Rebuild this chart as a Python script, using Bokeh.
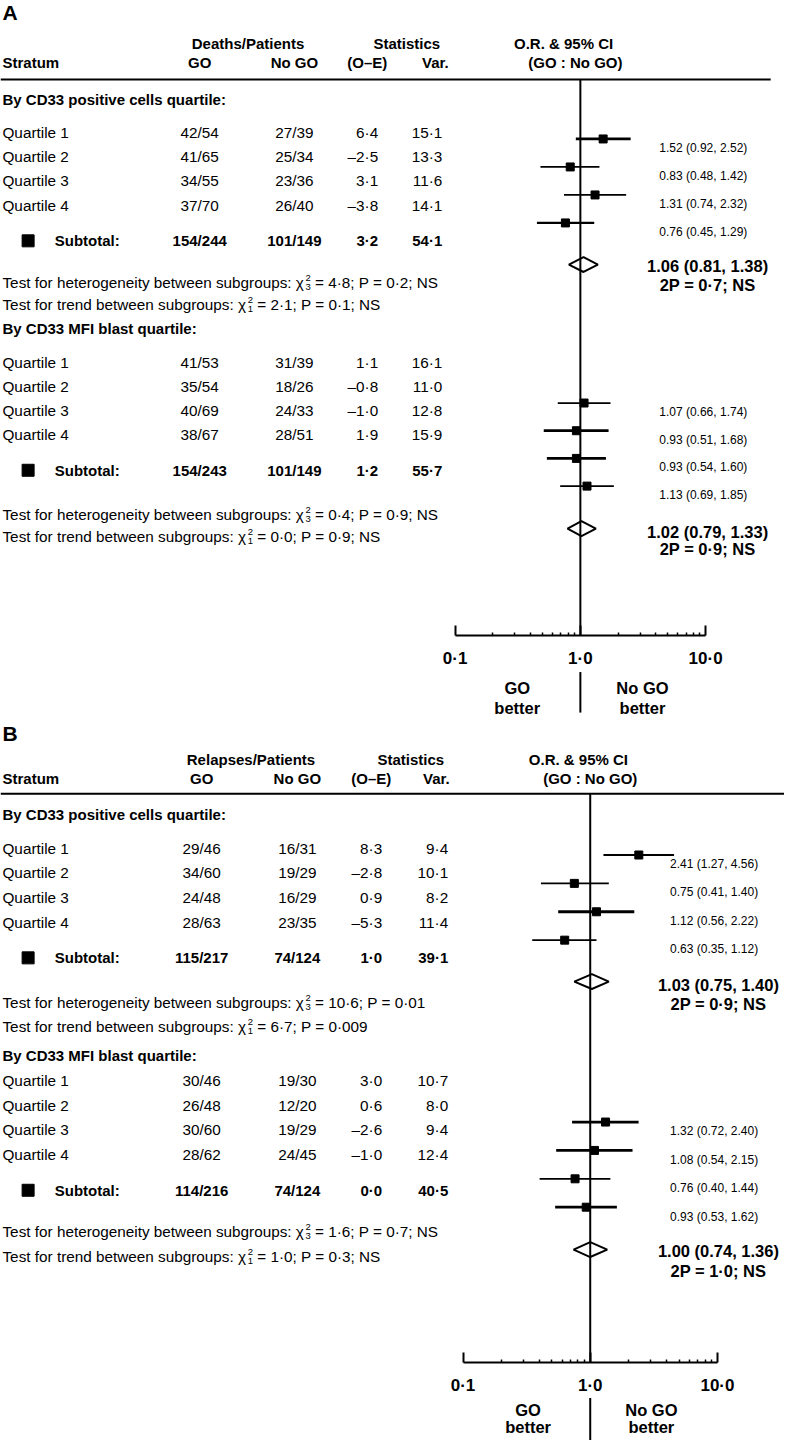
from bokeh.plotting import figure
from bokeh.models import Range1d, LogScale, LogAxis, FixedTicker, ColumnDataSource
from bokeh.core.properties import value
from bokeh.embed import file_html
from bokeh.resources import INLINE

# ---------------- data ----------------
QUARTILES = ["Quartile 1", "Quartile 2", "Quartile 3", "Quartile 4"]
GROUP_TITLES = ["By CD33 positive cells quartile:", "By CD33 MFI blast quartile:"]
HEAD_TOP = ["Statistics", "O.R. & 95% CI"]
HEAD_BOT = ["Stratum", "GO", "No GO", "(O\u2013E)", "Var.", "(GO : No GO)"]
BETTER = ["GO", "No GO", "better"]
TICKS_MAJOR = [0.1, 1.0, 10.0]
TICKS_MINOR = [0.2, 0.3, 0.4, 0.5, 0.6, 0.7, 0.8, 0.9, 2, 3, 4, 5, 6, 7, 8, 9]
TICK_LABELS = ["0\u00b71", "1\u00b70", "10\u00b70"]
NULL_OR = 1.0

# Panel A: deaths
A_TITLE = "A"
A_EVENTS = "Deaths/Patients"
A_POS_GO = ["42/54", "41/65", "34/55", "37/70"]
A_POS_NOGO = ["27/39", "25/34", "23/36", "26/40"]
A_POS_OE = [6.4, -2.5, 3.1, -3.8]
A_POS_VAR = [15.1, 13.3, 11.6, 14.1]
A_POS_SUB = ["154/244", "101/149", 3.2, 54.1]
A_POS_HET = [3, 4.8, "0\u00b72; NS"]
A_POS_TREND = [1, 2.1, "0\u00b71; NS"]
A_POS_OR = [1.52, 0.83, 1.31, 0.76]
A_POS_LO = [0.92, 0.48, 0.74, 0.45]
A_POS_HI = [2.52, 1.42, 2.32, 1.29]
A_POS_TOT = [1.06, 0.81, 1.38]
A_POS_2P = "2P = 0\u00b77; NS"

A_MFI_GO = ["41/53", "35/54", "40/69", "38/67"]
A_MFI_NOGO = ["31/39", "18/26", "24/33", "28/51"]
A_MFI_OE = [1.1, -0.8, -1.0, 1.9]
A_MFI_VAR = [16.1, 11.0, 12.8, 15.9]
A_MFI_SUB = ["154/243", "101/149", 1.2, 55.7]
A_MFI_HET = [3, 0.4, "0\u00b79; NS"]
A_MFI_TREND = [1, 0.0, "0\u00b79; NS"]
A_MFI_OR = [1.07, 0.93, 0.93, 1.13]
A_MFI_LO = [0.66, 0.51, 0.54, 0.69]
A_MFI_HI = [1.74, 1.68, 1.60, 1.85]
A_MFI_TOT = [1.02, 0.79, 1.33]
A_MFI_2P = "2P = 0\u00b79; NS"

# Panel B: relapses
B_TITLE = "B"
B_EVENTS = "Relapses/Patients"
B_POS_GO = ["29/46", "34/60", "24/48", "28/63"]
B_POS_NOGO = ["16/31", "19/29", "16/29", "23/35"]
B_POS_OE = [8.3, -2.8, 0.9, -5.3]
B_POS_VAR = [9.4, 10.1, 8.2, 11.4]
B_POS_SUB = ["115/217", "74/124", 1.0, 39.1]
B_POS_HET = [3, 10.6, "0\u00b701"]
B_POS_TREND = [1, 6.7, "0\u00b7009"]
B_POS_OR = [2.41, 0.75, 1.12, 0.63]
B_POS_LO = [1.27, 0.41, 0.56, 0.35]
B_POS_HI = [4.56, 1.40, 2.22, 1.12]
B_POS_TOT = [1.03, 0.75, 1.40]
B_POS_2P = "2P = 0\u00b79; NS"

B_MFI_GO = ["30/46", "26/48", "30/60", "28/62"]
B_MFI_NOGO = ["19/30", "12/20", "19/29", "24/45"]
B_MFI_OE = [3.0, 0.6, -2.6, -1.0]
B_MFI_VAR = [10.7, 8.0, 9.4, 12.4]
B_MFI_SUB = ["114/216", "74/124", 0.0, 40.5]
B_MFI_HET = [3, 1.6, "0\u00b77; NS"]
B_MFI_TREND = [1, 1.0, "0\u00b73; NS"]
B_MFI_OR = [1.32, 1.08, 0.76, 0.93]
B_MFI_LO = [0.72, 0.54, 0.40, 0.53]
B_MFI_HI = [2.40, 2.15, 1.44, 1.62]
B_MFI_TOT = [1.00, 0.74, 1.36]
B_MFI_2P = "2P = 1\u00b70; NS"

# ---------------- layout / style ----------------
W, H = 784, 1440
XMAX, YMAX = 795, 1456
SX = W / float(XMAX)
FONT = "Liberation Sans"
BODY = 15.3
BIG = 16.5

LAY_A = dict(rn="orA", center=588, decade=127, title_y=12, h1=43, h2=63, rule=80, rule_x1=781,
             events_c=251, stats_c=412, or1_c=571, go_c=202, nogo_c=298, oe_r=383, var_r=448,
             oe_h=372, var_h=441, or2_c=583, ci_x=668, tot_c=717,
             axis=642, go_y=695, better_y=715, left_c=524, right_c=651, div=(679, 720),
             groups=[dict(head=100, row0=133, step=24.6, sub=243, het=285, trend=307,
                          m0=140, mstep=28.3, loff=9.3, dia=267, tot=268, p2=288,
                          lw=[2.8, 1.8, 1.8, 2.2]),
                     dict(head=332, row0=366, step=24.2, sub=475, het=520, trend=542,
                          m0=407, mstep=28.0, loff=9.0, dia=534, tot=537, p2=555,
                          lw=[1.8, 2.8, 2.8, 1.8])])
LAY_B = dict(rn="orB", center=598, decade=129, title_y=741, h1=767, h2=787, rule=802, rule_x1=800,
             events_c=254, stats_c=416, or1_c=586, go_c=204, nogo_c=301, oe_r=387, var_r=454,
             oe_h=376, var_h=442, or2_c=598, ci_x=679, tot_c=728,
             axis=1377, go_y=1425, better_y=1442, left_c=535, right_c=660, div=(1413, 1456),
             groups=[dict(head=823, row0=857, step=25.0, sub=968, het=1013, trend=1037,
                          m0=864, mstep=28.7, loff=9.0, dia=992, tot=995, p2=1015,
                          lw=[1.8, 1.8, 2.8, 1.8]),
                     dict(head=1067, row0=1092, step=25.0, sub=1203, het=1245, trend=1270,
                          m0=1134, mstep=28.7, loff=9.5, dia=1263, tot=1264, p2=1285,
                          lw=[2.8, 2.8, 1.8, 2.8])])

DATA_A = dict(title=A_TITLE, events=A_EVENTS, groups=[
    dict(go=A_POS_GO, nogo=A_POS_NOGO, oe=A_POS_OE, var=A_POS_VAR, sub=A_POS_SUB, het=A_POS_HET,
         trend=A_POS_TREND, orr=A_POS_OR, lo=A_POS_LO, hi=A_POS_HI, tot=A_POS_TOT, p2=A_POS_2P),
    dict(go=A_MFI_GO, nogo=A_MFI_NOGO, oe=A_MFI_OE, var=A_MFI_VAR, sub=A_MFI_SUB, het=A_MFI_HET,
         trend=A_MFI_TREND, orr=A_MFI_OR, lo=A_MFI_LO, hi=A_MFI_HI, tot=A_MFI_TOT, p2=A_MFI_2P)])
DATA_B = dict(title=B_TITLE, events=B_EVENTS, groups=[
    dict(go=B_POS_GO, nogo=B_POS_NOGO, oe=B_POS_OE, var=B_POS_VAR, sub=B_POS_SUB, het=B_POS_HET,
         trend=B_POS_TREND, orr=B_POS_OR, lo=B_POS_LO, hi=B_POS_HI, tot=B_POS_TOT, p2=B_POS_2P),
    dict(go=B_MFI_GO, nogo=B_MFI_NOGO, oe=B_MFI_OE, var=B_MFI_VAR, sub=B_MFI_SUB, het=B_MFI_HET,
         trend=B_MFI_TREND, orr=B_MFI_OR, lo=B_MFI_LO, hi=B_MFI_HI, tot=B_MFI_TOT, p2=B_MFI_2P)])

# Arial / Liberation Sans advance widths (1/1000 em) for positioning the chi-square sub/superscripts
ARIAL = {" ": 278, ":": 278, "T": 611, "a": 556, "b": 556, "c": 500, "d": 556, "e": 556, "f": 278,
         "g": 556, "h": 556, "i": 222, "l": 222, "n": 556, "o": 556, "p": 556, "r": 333, "s": 500,
         "t": 278, "u": 556, "w": 722, "y": 500, "\u03c7": 500, "2": 556, "1": 556, "3": 556}


def tw(s, size):
    return sum(ARIAL.get(c, 556) for c in s) / 1000.0 * size / SX


def dot1(v):
    s = f"{abs(v):.1f}".replace(".", "\u00b7")
    return ("\u2013" if v < 0 else "") + s


def ci(o, l, h):
    return f"{o:.2f} ({l:.2f}, {h:.2f})"


def log_range(L):
    c, d = L["center"], L["decade"]
    return Range1d(10 ** ((0 - c) / d), 10 ** ((XMAX - c) / d))


p = figure(width=W, height=H, x_range=Range1d(0, XMAX), y_range=Range1d(YMAX, 0),
           output_backend="svg", toolbar_location=None, x_axis_location=None, y_axis_location=None,
           min_border=0, outline_line_color=None, background_fill_color="white",
           border_fill_color="white",
           extra_x_ranges={"orA": log_range(LAY_A), "orB": log_range(LAY_B)},
           extra_x_scales={"orA": LogScale(), "orB": LogScale()})
p.grid.visible = False

texts = {}


def T(x, y, s, size=BODY, bold=False, align="left"):
    d = texts.setdefault((size, bold, align), dict(x=[], y=[], text=[]))
    d["x"].append(x)
    d["y"].append(y)
    d["text"].append(s)


def chi_line(y, prefix, stat):
    df, chi, pv = stat
    head = prefix + "\u03c7"
    T(2, y, head)
    xs = 2 + tw(head, BODY) + 0.3
    T(xs, y - 4.5, "2", 9.5)
    T(xs, y + 4.5, str(df), 9.5)
    xr = xs + tw("2", 9.5) + tw(" ", BODY)
    T(xr, y, f"= {dot1(chi)}; P = {pv}")


def panel(L, D):
    rn = L["rn"]
    T(2, L["title_y"], D["title"], 21, True)
    T(L["events_c"], L["h1"], D["events"], 15, True, "center")
    T(L["stats_c"], L["h1"], HEAD_TOP[0], 15, True, "center")
    T(L["or1_c"], L["h1"], HEAD_TOP[1], 15, True, "center")
    T(2, L["h2"], HEAD_BOT[0], 15, True)
    T(L["go_c"], L["h2"], HEAD_BOT[1], 15, True, "center")
    T(L["nogo_c"], L["h2"], HEAD_BOT[2], 15, True, "center")
    T(L["oe_h"], L["h2"], HEAD_BOT[3], 15, True, "center")
    T(L["var_h"], L["h2"], HEAD_BOT[4], 15, True, "center")
    T(L["or2_c"], L["h2"], HEAD_BOT[5], 15, True, "center")
    p.segment(x0=[0], y0=[L["rule"]], x1=[L["rule_x1"]], y1=[L["rule"]], line_color="black", line_width=2)

    for g in range(2):
        G, GL = D["groups"][g], L["groups"][g]
        T(2, GL["head"], GROUP_TITLES[g], 15, True)
        for i in range(4):
            y = GL["row0"] + i * GL["step"]
            T(2, y, QUARTILES[i])
            T(L["go_c"], y, G["go"][i], align="center")
            T(L["nogo_c"], y, G["nogo"][i], align="center")
            T(L["oe_r"], y, dot1(G["oe"][i]), align="right")
            T(L["var_r"], y, dot1(G["var"][i]), align="right")
        ys = GL["sub"]
        p.scatter(x=[28], y=[ys], marker="square", size=12, color="black")
        T(55, ys, "Subtotal:", 15, True)
        T(L["go_c"], ys, G["sub"][0], 15, True, "center")
        T(L["nogo_c"], ys, G["sub"][1], 15, True, "center")
        T(L["oe_r"], ys, dot1(G["sub"][2]), 15, True, "right")
        T(L["var_r"], ys, dot1(G["sub"][3]), 15, True, "right")
        chi_line(GL["het"], "Test for heterogeneity between subgroups: ", G["het"])
        chi_line(GL["trend"], "Test for trend between subgroups: ", G["trend"])

        # forest marks
        my = [GL["m0"] + i * GL["mstep"] for i in range(4)]
        src = ColumnDataSource(dict(y=my, orr=G["orr"], lo=G["lo"], hi=G["hi"], lw=GL["lw"]))
        p.segment(x0="lo", y0="y", x1="hi", y1="y", line_width="lw", line_color="black",
                  source=src, x_range_name=rn)
        p.scatter(x="orr", y="y", marker="square", size=8, color="black", source=src, x_range_name=rn)
        for i in range(4):
            T(L["ci_x"], my[i] + GL["loff"], ci(G["orr"][i], G["lo"][i], G["hi"][i]), 12)
        est, lo, hi = G["tot"]
        dy, hdh = GL["dia"], 7.5
        p.patch(x=[lo, est, hi, est, lo], y=[dy, dy - hdh, dy, dy + hdh, dy], fill_color="white",
                line_color="black", line_width=2, x_range_name=rn)
        T(L["tot_c"], GL["tot"], ci(est, lo, hi), BIG, True, "center")
        T(L["tot_c"], GL["p2"], G["p2"], BIG, True, "center")

    # null line
    p.segment(x0=[NULL_OR], y0=[L["rule"]], x1=[NULL_OR], y1=[L["axis"]], line_color="black",
              line_width=2, x_range_name=rn)
    p.segment(x0=[NULL_OR], y0=[L["div"][0]], x1=[NULL_OR], y1=[L["div"][1]], line_color="black",
              line_width=2, x_range_name=rn)
    T(L["left_c"], L["go_y"], BETTER[0], BIG, True, "center")
    T(L["left_c"], L["better_y"], BETTER[2], BIG, True, "center")
    T(L["right_c"], L["go_y"], BETTER[1], BIG, True, "center")
    T(L["right_c"], L["better_y"], BETTER[2], BIG, True, "center")

    ax = LogAxis(x_range_name=rn, ticker=FixedTicker(ticks=TICKS_MAJOR, minor_ticks=TICKS_MINOR),
                 fixed_location=L["axis"], bounds=(TICKS_MAJOR[0], TICKS_MAJOR[-1]),
                 axis_line_width=2, axis_line_color="black",
                 major_tick_in=10, major_tick_out=0, major_tick_line_width=2,
                 minor_tick_in=3, minor_tick_out=0, minor_tick_line_width=1.5,
                 major_label_overrides={t: s for t, s in zip(TICKS_MAJOR, TICK_LABELS)},
                 major_label_text_font=FONT, major_label_text_font_size="17px",
                 major_label_text_font_style="bold", major_label_text_color="black",
                 major_label_standoff=14)
    p.add_layout(ax, "below")


panel(LAY_A, DATA_A)
panel(LAY_B, DATA_B)

for (size, bold, align), d in texts.items():
    p.text(x="x", y="y", text="text", source=ColumnDataSource(d), text_font=value(FONT),
           text_font_size=value(f"{size}px"), text_font_style="bold" if bold else "normal",
           text_align=align, text_baseline="middle", text_color="black")

open("out.html", "w").write(file_html(p, INLINE, title="Forest plot"))
